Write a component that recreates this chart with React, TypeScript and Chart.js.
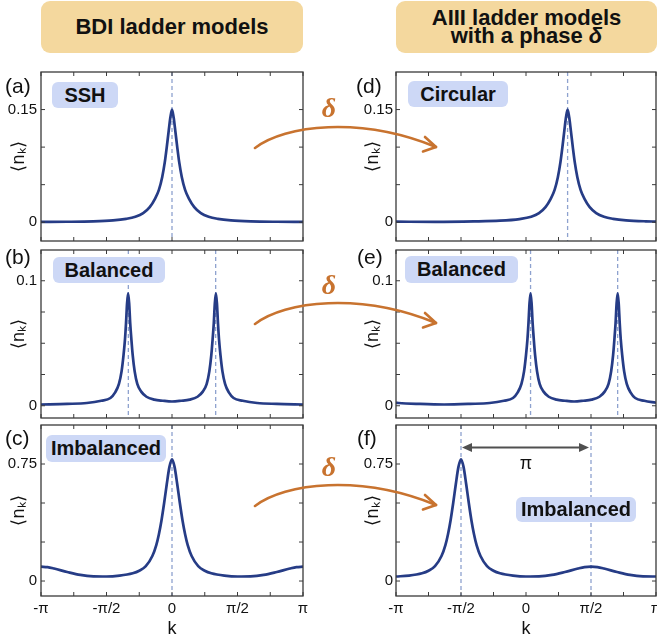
import React, { useEffect, useRef } from 'react';
import { Chart, registerables } from 'chart.js';
Chart.register(...registerables);

const FONT = '"Liberation Sans", Arial, Helvetica, sans-serif';
const LINE = '#263c86';
const DASH = '#8ea2cf';
const FRAME = '#3a3a3a';
const HEAD = '#f4d89e';
const BADGE = '#cdd8f6';
const ORANGE = '#c8732f';

// x axis: k in units of pi
const kTicks = [-1, -0.75, -0.5, -0.25, 0, 0.25, 0.5, 0.75, 1];
const kLabelVals = [-1, -0.5, 0, 0.5, 1];
const kLabelTexts = ['-π', '-π/2', '0', 'π/2', 'π'];

// (a) SSH
const kA = [-1, -0.8, -0.6, -0.45, -0.35, -0.28, -0.22, -0.17, -0.13, -0.1, -0.075, -0.055, -0.04, -0.025, -0.012, 0, 0.012, 0.025, 0.04, 0.055, 0.075, 0.1, 0.13, 0.17, 0.22, 0.28, 0.35, 0.45, 0.6, 0.8, 1];
const nA = [0.0004, 0.0006, 0.0012, 0.0025, 0.0045, 0.0072, 0.012, 0.02, 0.031, 0.043, 0.06, 0.08, 0.1, 0.122, 0.14, 0.15, 0.14, 0.122, 0.1, 0.08, 0.06, 0.043, 0.031, 0.02, 0.012, 0.0072, 0.0045, 0.0025, 0.0012, 0.0006, 0.0004];
const yTicksA = [0, 0.05, 0.1, 0.15];
const yLabelValsA = [0, 0.15];
const yLabelTextsA = ['0', '0.15'];
const marksA = [0];

// (b) Balanced BDI
const kB = [-1, -0.8, -0.65, -0.54, -0.47, -0.435, -0.405, -0.385, -0.37, -0.359, -0.351, -0.343, -0.335, -0.327, -0.319, -0.31, -0.3, -0.285, -0.265, -0.235, -0.195, -0.135, -0.07, 0, 0.07, 0.135, 0.195, 0.235, 0.265, 0.285, 0.3, 0.31, 0.319, 0.327, 0.335, 0.343, 0.351, 0.359, 0.37, 0.385, 0.405, 0.435, 0.47, 0.54, 0.65, 0.8, 1];
const nB = [0.001, 0.0015, 0.0022, 0.004, 0.0062, 0.0105, 0.0175, 0.0275, 0.0405, 0.053, 0.066, 0.082, 0.09, 0.082, 0.066, 0.053, 0.0405, 0.0275, 0.0175, 0.0113, 0.0072, 0.0049, 0.004, 0.0034, 0.004, 0.0049, 0.0072, 0.0113, 0.0175, 0.0275, 0.0405, 0.053, 0.066, 0.082, 0.09, 0.082, 0.066, 0.053, 0.0405, 0.0275, 0.0175, 0.0105, 0.0062, 0.004, 0.0022, 0.0015, 0.001];
const yTicksB = [0, 0.025, 0.05, 0.075, 0.1];
const yLabelValsB = [0, 0.1];
const yLabelTextsB = ['0', '0.1'];
const marksB = [-1 / 3, 1 / 3];

// (c) Imbalanced BDI
const kC = [-1, -0.95, -0.9, -0.8, -0.7, -0.6, -0.5, -0.4, -0.3, -0.25, -0.2, -0.15, -0.12, -0.1, -0.08, -0.06, -0.04, -0.02, 0, 0.02, 0.04, 0.06, 0.08, 0.1, 0.12, 0.15, 0.2, 0.25, 0.3, 0.4, 0.5, 0.6, 0.7, 0.8, 0.9, 0.95, 1];
const nC = [0.092, 0.089, 0.08, 0.058, 0.039, 0.03, 0.029, 0.035, 0.05, 0.066, 0.095, 0.16, 0.23, 0.3, 0.39, 0.5, 0.62, 0.73, 0.78, 0.73, 0.62, 0.5, 0.39, 0.3, 0.23, 0.16, 0.095, 0.066, 0.05, 0.035, 0.029, 0.03, 0.039, 0.058, 0.08, 0.089, 0.092];
const yTicksC = [0, 0.25, 0.5, 0.75];
const yLabelValsC = [0, 0.75];
const yLabelTextsC = ['0', '0.75'];
const marksC = [0];

// (d) Circular
const kD = [-1, -0.7, -0.4, -0.2, -0.05, 0.04, 0.1, 0.15, 0.19, 0.22, 0.245, 0.265, 0.28, 0.295, 0.308, 0.32, 0.332, 0.345, 0.36, 0.375, 0.395, 0.42, 0.45, 0.49, 0.54, 0.6, 0.67, 0.77, 0.92, 1];
const nD = [0.0008, 0.0004, 0.001, 0.002, 0.0042, 0.0072, 0.012, 0.02, 0.031, 0.043, 0.06, 0.08, 0.1, 0.122, 0.14, 0.15, 0.14, 0.122, 0.1, 0.08, 0.06, 0.043, 0.031, 0.02, 0.012, 0.0072, 0.0045, 0.0025, 0.0012, 0.0009];
const marksD = [0.32];

// (e) Balanced AIII
const kE = [-1, -0.98, -0.83, -0.63, -0.43, -0.28, -0.17, -0.1, -0.065, -0.035, -0.015, 0, 0.011, 0.019, 0.027, 0.035, 0.043, 0.051, 0.06, 0.07, 0.085, 0.105, 0.135, 0.175, 0.235, 0.3, 0.37, 0.44, 0.505, 0.565, 0.605, 0.635, 0.655, 0.67, 0.68, 0.689, 0.697, 0.705, 0.713, 0.721, 0.729, 0.74, 0.755, 0.775, 0.805, 0.84, 0.91, 1];
const nE = [0.0024, 0.0022, 0.0015, 0.001, 0.0015, 0.0022, 0.004, 0.0062, 0.0105, 0.0175, 0.0275, 0.0405, 0.053, 0.066, 0.082, 0.09, 0.082, 0.066, 0.053, 0.0405, 0.0275, 0.0175, 0.0113, 0.0072, 0.0049, 0.004, 0.0034, 0.004, 0.0049, 0.0072, 0.0113, 0.0175, 0.0275, 0.0405, 0.053, 0.066, 0.082, 0.09, 0.082, 0.066, 0.053, 0.0405, 0.0275, 0.0175, 0.0105, 0.0062, 0.004, 0.0024];
const marksE = [0.035, 0.705];

// (f) Imbalanced AIII
const kF = [-1, -0.9, -0.8, -0.75, -0.7, -0.65, -0.62, -0.6, -0.58, -0.56, -0.54, -0.52, -0.5, -0.48, -0.46, -0.44, -0.42, -0.4, -0.38, -0.35, -0.3, -0.25, -0.2, -0.1, 0, 0.1, 0.2, 0.3, 0.4, 0.45, 0.5, 0.55, 0.6, 0.7, 0.8, 0.9, 1];
const nF = [0.029, 0.035, 0.05, 0.066, 0.095, 0.16, 0.23, 0.3, 0.39, 0.5, 0.62, 0.73, 0.78, 0.73, 0.62, 0.5, 0.39, 0.3, 0.23, 0.16, 0.095, 0.066, 0.05, 0.035, 0.029, 0.03, 0.039, 0.058, 0.08, 0.089, 0.092, 0.089, 0.08, 0.058, 0.039, 0.03, 0.029];
const marksF = [-0.5, 0.5];
const spanF = [-0.5, 0.5];
const spanYF = 0.855;

type Panel = {
  id: string; k: number[]; n: number[]; yMin: number; yMax: number;
  yTicks: number[]; yLabelVals: number[]; yLabelTexts: string[]; marks: number[];
  col: number; row: number; span?: boolean;
};

const PANELS: Panel[] = [
  { id: 'a', k: kA, n: nA, yMin: -0.025, yMax: 0.2, yTicks: yTicksA, yLabelVals: yLabelValsA, yLabelTexts: yLabelTextsA, marks: marksA, col: 0, row: 0 },
  { id: 'b', k: kB, n: nB, yMin: -0.0098, yMax: 0.1246, yTicks: yTicksB, yLabelVals: yLabelValsB, yLabelTexts: yLabelTextsB, marks: marksB, col: 0, row: 1 },
  { id: 'c', k: kC, n: nC, yMin: -0.096, yMax: 1.0, yTicks: yTicksC, yLabelVals: yLabelValsC, yLabelTexts: yLabelTextsC, marks: marksC, col: 0, row: 2 },
  { id: 'd', k: kD, n: nD, yMin: -0.025, yMax: 0.2, yTicks: yTicksA, yLabelVals: yLabelValsA, yLabelTexts: yLabelTextsA, marks: marksD, col: 1, row: 0 },
  { id: 'e', k: kE, n: nE, yMin: -0.0098, yMax: 0.1246, yTicks: yTicksB, yLabelVals: yLabelValsB, yLabelTexts: yLabelTextsB, marks: marksE, col: 1, row: 1 },
  { id: 'f', k: kF, n: nF, yMin: -0.096, yMax: 1.0, yTicks: yTicksC, yLabelVals: yLabelValsC, yLabelTexts: yLabelTextsC, marks: marksF, col: 1, row: 2, span: true },
];

const COLS = [
  { left: 0, width: 310, padRight: 7, titlePad: 8, tickPad: 4 },
  { left: 355, width: 302, padRight: 1, titlePad: 7, tickPad: 3 },
];
const ROWS = [
  { top: 64, height: 185, padBottom: 8, xAxisH: 0 },
  { top: 242, height: 184, padBottom: 8, xAxisH: 0 },
  { top: 417, height: 225, padBottom: 0, xAxisH: 46 },
];

function makeDeco(p: Panel) {
  return {
    id: 'deco_' + p.id,
    beforeDatasetsDraw(chart: any) {
      const { ctx, chartArea: a, scales } = chart;
      const x = scales.x;
      ctx.save();
      ctx.beginPath();
      ctx.rect(a.left, a.top, a.right - a.left, a.bottom - a.top);
      ctx.clip();
      ctx.strokeStyle = DASH;
      ctx.lineWidth = 1.3;
      ctx.setLineDash([4, 3]);
      p.marks.forEach((m) => {
        const px = x.getPixelForValue(m);
        ctx.beginPath();
        ctx.moveTo(px, a.top);
        ctx.lineTo(px, a.bottom);
        ctx.stroke();
      });
      ctx.restore();
    },
    afterDraw(chart: any) {
      const { ctx, chartArea: a, scales } = chart;
      const x = scales.x;
      const y = scales.y;
      ctx.save();
      ctx.strokeStyle = FRAME;
      ctx.lineWidth = 1.3;
      ctx.strokeRect(a.left, a.top, a.right - a.left, a.bottom - a.top);
      ctx.lineWidth = 1;
      ctx.beginPath();
      kTicks.forEach((v) => {
        const px = x.getPixelForValue(v);
        ctx.moveTo(px, a.bottom);
        ctx.lineTo(px, a.bottom - 4);
        ctx.moveTo(px, a.top);
        ctx.lineTo(px, a.top + 4);
      });
      p.yTicks.forEach((v) => {
        const py = y.getPixelForValue(v);
        ctx.moveTo(a.left, py);
        ctx.lineTo(a.left + 4, py);
        ctx.moveTo(a.right, py);
        ctx.lineTo(a.right - 4, py);
      });
      ctx.stroke();
      if (p.span) {
        const x1 = x.getPixelForValue(spanF[0]);
        const x2 = x.getPixelForValue(spanF[1]);
        const py = y.getPixelForValue(spanYF);
        ctx.strokeStyle = '#505050';
        ctx.fillStyle = '#505050';
        ctx.lineWidth = 2;
        ctx.beginPath();
        ctx.moveTo(x1 + 8, py);
        ctx.lineTo(x2 - 8, py);
        ctx.stroke();
        ctx.beginPath();
        ctx.moveTo(x1 + 1, py);
        ctx.lineTo(x1 + 11, py - 4.5);
        ctx.lineTo(x1 + 11, py + 4.5);
        ctx.closePath();
        ctx.fill();
        ctx.beginPath();
        ctx.moveTo(x2 - 2, py);
        ctx.lineTo(x2 - 12, py - 4.5);
        ctx.lineTo(x2 - 12, py + 4.5);
        ctx.closePath();
        ctx.fill();
      }
      ctx.restore();
    },
  };
}

function PanelChart({ p }: { p: Panel }) {
  const ref = useRef<HTMLCanvasElement | null>(null);
  const col = COLS[p.col];
  const row = ROWS[p.row];
  useEffect(() => {
    if (!ref.current) return;
    const showX = p.row === 2;
    const chart = new Chart(ref.current, {
      type: 'line',
      data: {
        datasets: [
          {
            data: p.k.map((kv, i) => ({ x: kv, y: p.n[i] })),
            borderColor: LINE,
            borderWidth: 2.7,
            pointRadius: 0,
            cubicInterpolationMode: 'monotone',
            fill: false,
          } as any,
        ],
      },
      options: {
        animation: false,
        responsive: false,
        maintainAspectRatio: false,
        events: [],
        layout: { padding: { top: 8, right: col.padRight, bottom: row.padBottom, left: 0 } },
        plugins: { legend: { display: false }, tooltip: { enabled: false } },
        scales: {
          x: {
            type: 'linear',
            min: -1,
            max: 1,
            grid: { display: false, drawTicks: false },
            border: { display: false },
            ticks: {
              display: showX,
              padding: 4,
              autoSkip: false,
              maxRotation: 0,
              color: '#111',
              font: { family: FONT, size: 15 },
              callback: (_v: any, i: number) => kLabelTexts[i],
            },
            afterBuildTicks: (s: any) => {
              s.ticks = kLabelVals.map((v) => ({ value: v }));
            },
            title: { display: showX, text: 'k', color: '#111', font: { family: FONT, size: 18 }, padding: { top: 0, bottom: 2 } },
            afterFit: (s: any) => {
              s.height = row.xAxisH;
              s.paddingLeft = 0;
              s.paddingRight = 0;
            },
          },
          y: {
            type: 'linear',
            min: p.yMin,
            max: p.yMax,
            grid: { display: false, drawTicks: false },
            border: { display: false },
            ticks: {
              padding: col.tickPad,
              color: '#111',
              font: { family: FONT, size: 15 },
              callback: (_v: any, i: number) => p.yLabelTexts[i],
            },
            afterBuildTicks: (s: any) => {
              s.ticks = p.yLabelVals.map((v) => ({ value: v }));
            },
            title: { display: true, text: '⟨nₖ⟩', color: '#111', font: { family: FONT, size: 18 }, padding: { top: col.titlePad, bottom: 0 } },
            afterFit: (s: any) => {
              s.width = 41;
              s.paddingTop = 0;
              s.paddingBottom = 0;
            },
          },
        },
      } as any,
      plugins: [makeDeco(p)],
    });
    return () => chart.destroy();
  }, []);
  return (
    <div style={{ position: 'absolute', left: col.left, top: row.top, width: col.width, height: row.height }}>
      <canvas ref={ref} width={col.width} height={row.height} style={{ display: 'block', width: col.width, height: row.height }} />
    </div>
  );
}

const panelLabels = [
  { t: '(a)', x: 5, y: 86 }, { t: '(b)', x: 5, y: 257 }, { t: '(c)', x: 5, y: 438 },
  { t: '(d)', x: 356, y: 86 }, { t: '(e)', x: 357, y: 257 }, { t: '(f)', x: 357, y: 438 },
];
const badges = [
  { t: 'SSH', x: 52, y: 82, w: 66, h: 26 },
  { t: 'Balanced', x: 53, y: 257, w: 112, h: 26 },
  { t: 'Imbalanced', x: 46, y: 435, w: 120, h: 27 },
  { t: 'Circular', x: 408, y: 81, w: 100, h: 26 },
  { t: 'Balanced', x: 405, y: 256, w: 113, h: 27 },
  { t: 'Imbalanced', x: 516, y: 497, w: 120, h: 25 },
];
const arrowRows = [148, 324, 506];
const deltaRows = [108, 285, 467];

export default function App() {
  return (
    <div style={{ position: 'absolute', left: 0, top: 0, width: 657, height: 642, overflow: 'hidden', background: '#fff', fontFamily: FONT, color: '#111' }}>
      <div style={{ position: 'absolute', left: 41, top: 1, width: 262, height: 52, background: HEAD, borderRadius: 9, display: 'flex', alignItems: 'center', justifyContent: 'center', fontWeight: 'bold', fontSize: 22 }}>
        BDI ladder models
      </div>
      <div style={{ position: 'absolute', left: 396, top: 1, width: 261, height: 52, background: HEAD, borderRadius: 9, display: 'flex', alignItems: 'center', justifyContent: 'center', fontWeight: 'bold', fontSize: 22, lineHeight: '18px', textAlign: 'center' }}>
        <div>AIII ladder models<br />with a phase <i>δ</i></div>
      </div>
      {PANELS.map((p) => <PanelChart key={p.id} p={p} />)}
      {panelLabels.map((l) => (
        <div key={l.t} style={{ position: 'absolute', left: l.x, top: l.y - 12, height: 24, lineHeight: '24px', fontSize: 21 }}>{l.t}</div>
      ))}
      {badges.map((b, i) => (
        <div key={i} style={{ position: 'absolute', left: b.x, top: b.y, width: b.w, height: b.h, background: BADGE, borderRadius: 6, display: 'flex', alignItems: 'center', justifyContent: 'center', fontWeight: 'bold', fontSize: 20 }}>{b.t}</div>
      ))}
      <div style={{ position: 'absolute', left: 516, top: 452, width: 20, textAlign: 'center', fontSize: 18, lineHeight: '22px' }}>π</div>
      {deltaRows.map((y, i) => (
        <div key={i} style={{ position: 'absolute', left: 314, top: y - 16, width: 30, height: 32, lineHeight: '32px', textAlign: 'center', fontFamily: '"Liberation Serif", serif', fontWeight: 'bold', fontStyle: 'italic', fontSize: 28, color: ORANGE }}>δ</div>
      ))}
      <svg width={657} height={642} style={{ position: 'absolute', left: 0, top: 0, pointerEvents: 'none' }}>
        {arrowRows.map((y, i) => (
          <g key={i} transform={`translate(0 ${y - 148})`} fill="none" stroke={ORANGE} strokeWidth={2.6} strokeLinecap="round" strokeLinejoin="round">
            <path d="M255 148 C285 125 360 116 436 147" />
            <path d="M425 137 L436 147 L423 151.5" />
          </g>
        ))}
      </svg>
    </div>
  );
}
